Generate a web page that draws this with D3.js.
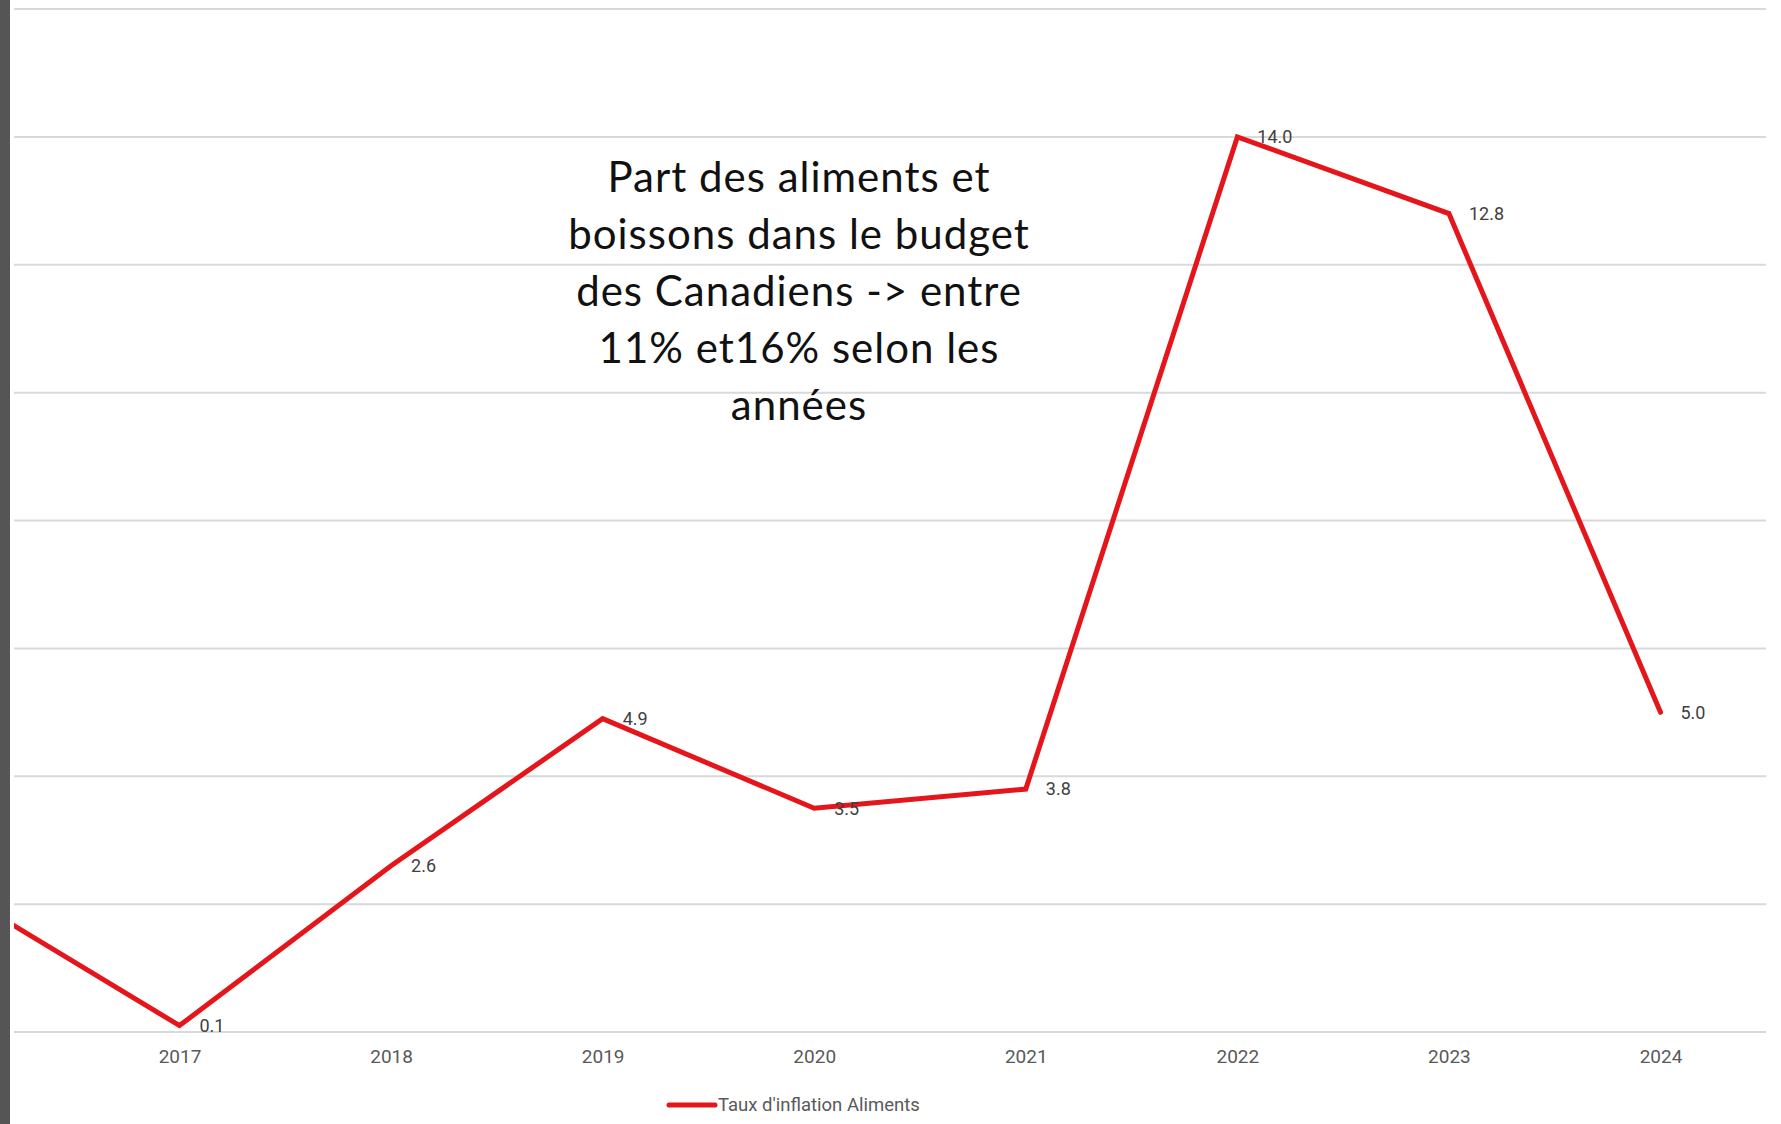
<!DOCTYPE html>
<html>
<head>
<meta charset="utf-8">
<script src="https://cdn.jsdelivr.net/npm/d3@7"></script>
<style>
  html, body { margin: 0; padding: 0; background: #fff; }
  svg { display: block; }
</style>
</head>
<body>
<script>
// data (2016 is only partly visible at the left edge)
const years = [2016, 2017, 2018, 2019, 2020, 2021, 2022, 2023, 2024];
const inflation = [2.1, 0.1, 2.6, 4.9, 3.5, 3.8, 14.0, 12.8, 5.0];
const gridValues = [0, 2, 4, 6, 8, 10, 12, 14, 16];
const tickYears = [2017, 2018, 2019, 2020, 2021, 2022, 2023, 2024];
const seriesName = "Taux d'inflation Aliments";
const noteLines = [
  "Part des aliments et",
  "boissons dans le budget",
  "des Canadiens -> entre",
  "11% et16% selon les",
  "années"
];

const w = 1781;
const h = 1124;
const plotLeft = 14, plotRight = 1766;
const red = "#e4161c";

const svg = d3.select("body")
  .append("svg")
  .attr("width", w)
  .attr("height", h);

// dark strip on the left edge
svg.append("rect")
  .attr("x", 0).attr("y", 0)
  .attr("width", 10).attr("height", h)
  .attr("fill", "#555555");

const x = d3.scaleLinear().domain([2017, 2024]).range([179.5, 1660.5]);
const y = d3.scaleLinear().domain([0, 16]).range([1032, 9]);

// gridlines
svg.append("g")
  .selectAll("line")
  .data(gridValues)
  .enter()
    .append("line")
    .attr("x1", plotLeft)
    .attr("x2", plotRight)
    .attr("y1", (d) => y(d))
    .attr("y2", (d) => y(d))
    .attr("stroke", "#d9d9d9")
    .attr("stroke-width", 2);

// year axis
const xAxis = svg.append("g")
  .attr("transform", `translate(0, ${y(0)})`)
  .call(d3.axisBottom(x).tickValues(tickYears).tickFormat(d3.format("d")).tickSize(0).tickPadding(18));
xAxis.select(".domain").remove();
xAxis.selectAll("text")
  .attr("font-family", "Roboto, 'Liberation Sans', sans-serif")
  .attr("font-size", 19)
  .attr("fill", "#595959");

// note text
const note = svg.append("text")
  .attr("text-anchor", "middle")
  .attr("font-family", "Lato, 'Open Sans', sans-serif")
  .attr("font-size", 42)
  .attr("letter-spacing", 1)
  .attr("fill", "#111");
note.selectAll("tspan")
  .data(noteLines)
  .enter()
    .append("tspan")
    .attr("x", 799)
    .attr("y", (d, i) => 192 + i * 57)
    .text((d) => d);

const points = years.map((yr, i) => ({ year: yr, value: inflation[i] }));

svg.append("clipPath")
  .attr("id", "plot-clip")
  .append("rect")
    .attr("x", plotLeft).attr("y", 0)
    .attr("width", plotRight - plotLeft).attr("height", h);

const line = d3.line()
  .x((d) => x(d.year))
  .y((d) => y(d.value));

svg.append("path")
  .datum(points)
  .attr("clip-path", "url(#plot-clip)")
  .attr("d", line)
  .attr("fill", "none")
  .attr("stroke", red)
  .attr("stroke-width", 5)
  .attr("stroke-linejoin", "miter")
  .attr("stroke-linecap", "round");

// value labels
svg.append("g")
  .selectAll("text")
  .data(points.filter((d) => d.year >= 2017))
  .enter()
    .append("text")
    .attr("x", (d) => x(d.year) + 20)
    .attr("y", (d) => y(d.value))
    .attr("dy", "0.35em")
    .attr("font-family", "Roboto, 'Liberation Sans', sans-serif")
    .attr("font-size", 18)
    .attr("fill", "#404040")
    .text((d) => d.value.toFixed(1));

// legend
const legend = svg.append("g").attr("transform", "translate(667, 1105)");
legend.append("line")
  .attr("x1", 2).attr("x2", 48)
  .attr("stroke", red)
  .attr("stroke-width", 5)
  .attr("stroke-linecap", "round");
legend.append("text")
  .attr("x", 51)
  .attr("dy", "0.35em")
  .attr("font-family", "Roboto, 'Liberation Sans', sans-serif")
  .attr("font-size", 18.5)
  .attr("fill", "#595959")
  .text(seriesName);
</script>
</body>
</html>
